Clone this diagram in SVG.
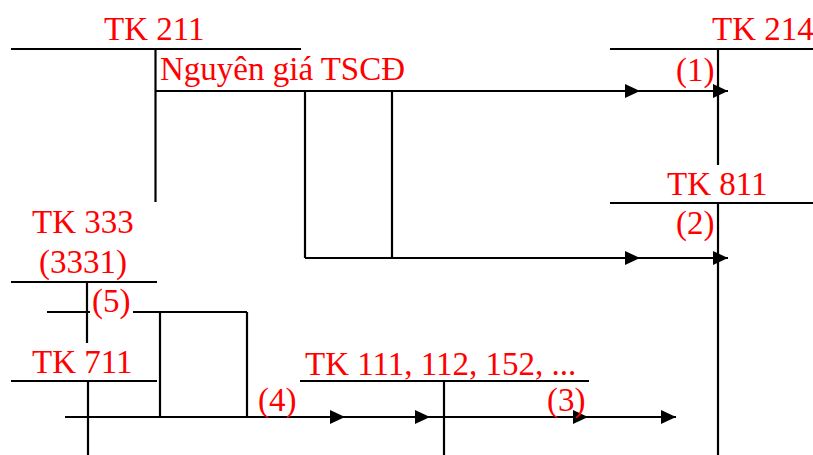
<svg xmlns="http://www.w3.org/2000/svg" width="813" height="455" viewBox="0 0 813 455" font-family="Liberation Serif, Times New Roman, serif" font-size="33" fill="#ff0000">
<style>
.ln{stroke:#000;stroke-width:2.2;fill:none}
.fl{stroke:#000;stroke-width:2.2;fill:none;marker-end:url(#ah)}
</style>
<defs>
<marker id="ah" markerUnits="userSpaceOnUse" markerWidth="16" markerHeight="16" refX="15" refY="8" orient="auto" viewBox="0 0 16 16">
<path d="M0,1 L15,8 L0,15 z" fill="#000"/>
</marker>
</defs>
<rect width="813" height="455" fill="#fff"/>
<g id="tk211">
<line class="ln" x1="11" y1="49" x2="301" y2="49"/>
<line class="ln" x1="155.5" y1="49" x2="155.5" y2="202"/>
<text x="104" y="40">TK 211</text>
<text x="160" y="80">Nguyên giá TSCĐ</text>
</g>
<g id="tk214">
<line class="ln" x1="610" y1="49" x2="813" y2="49"/>
<line class="ln" x1="718" y1="49" x2="718" y2="165"/>
<text x="712" y="40">TK 214</text>
</g>
<g id="tk811">
<line class="ln" x1="610" y1="203" x2="813" y2="203"/>
<line class="ln" x1="718" y1="203" x2="718" y2="455"/>
<text x="667" y="195">TK 811</text>
</g>
<g id="tk333">
<line class="ln" x1="11" y1="282" x2="157" y2="282"/>
<line class="ln" x1="87" y1="282" x2="87" y2="343"/>
<text x="32" y="233">TK 333</text>
<text x="39" y="273">(3331)</text>
</g>
<g id="tk711">
<line class="ln" x1="11" y1="381" x2="157" y2="381"/>
<line class="ln" x1="88" y1="381" x2="88" y2="455"/>
<text x="32" y="373">TK 711</text>
</g>
<g id="tk111">
<line class="ln" x1="300" y1="381" x2="589" y2="381"/>
<line class="ln" x1="444" y1="381" x2="444" y2="455"/>
<text x="305" y="375">TK 111, 112, 152, ...</text>
</g>
<g id="connectors">
<line class="fl" x1="155" y1="91" x2="640" y2="91"/>
<line class="fl" x1="640" y1="91" x2="728" y2="91"/>
<line class="ln" x1="305" y1="91" x2="305" y2="258"/>
<line class="ln" x1="392" y1="91" x2="392" y2="258"/>
<line class="fl" x1="305" y1="258" x2="640" y2="258"/>
<line class="fl" x1="640" y1="258" x2="728" y2="258"/>
<line class="ln" x1="47" y1="312" x2="247" y2="312"/>
<line class="ln" x1="160" y1="312" x2="160" y2="417"/>
<line class="ln" x1="247" y1="312" x2="247" y2="417"/>
<line class="fl" x1="65" y1="417" x2="345" y2="417"/>
<line class="fl" x1="345" y1="417" x2="430" y2="417"/>
<line class="fl" x1="430" y1="417" x2="588" y2="417"/>
<line class="fl" x1="588" y1="417" x2="676" y2="417"/>
</g>
<g id="labels">
<text x="676" y="81">(1)</text>
<text x="676" y="234">(2)</text>
<rect x="90" y="300" width="43" height="18" fill="#fff"/>
<text x="92" y="312">(5)</text>
<text x="258" y="411">(4)</text>
<text x="547" y="411">(3)</text>
</g>
</svg>
